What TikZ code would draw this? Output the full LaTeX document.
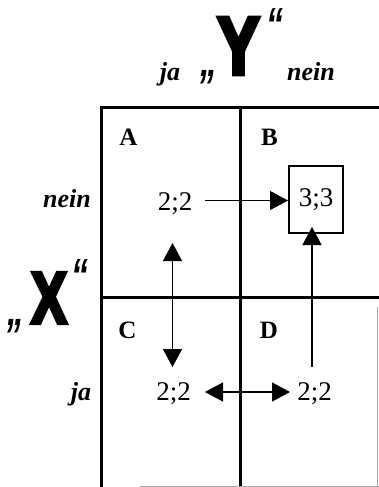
\documentclass[tikz,border=0pt]{standalone}
\usepackage{fontspec}
\setmainfont{Liberation Serif}
\newfontfamily\heavyfont[FakeBold=6]{Liberation Sans Bold}
\newfontfamily\quotefont{Liberation Sans}
\usetikzlibrary{arrows.meta}
\begin{document}
\begin{tikzpicture}[x=1pt,y=-1pt,
  grid/.style={line width=3pt},
  faint/.style={line width=1pt,black!35},
  num/.style={font=\fontsize{27}{29}\selectfont,inner sep=0pt,anchor=base},
  cell/.style={font=\fontsize{25}{27}\selectfont\bfseries,inner sep=0pt,anchor=base},
  lab/.style={font=\fontsize{26}{28}\selectfont\bfseries\itshape,inner sep=0pt,anchor=base},
  big/.style={font=\heavyfont\fontsize{78}{80}\selectfont,inner sep=0pt,anchor=base},
  qmark/.style={font=\quotefont\bfseries\itshape\fontsize{48}{50}\selectfont,inner sep=0pt,xscale=0.7},
  arr/.style={line width=1.3pt,-{Triangle[length=18pt,width=19pt]}},
  darr/.style={line width=1.3pt,{Triangle[length=18pt,width=19pt]}-{Triangle[length=18pt,width=19pt]}},
  result/.style={draw,line width=2pt,minimum width=54pt,minimum height=67pt,inner sep=0pt,
    font=\fontsize{27}{29}\selectfont}]
\useasboundingbox (0,0) rectangle (379,487);
% grid
\draw[grid] (101.5,107) -- (379,107);
\draw[grid] (101.5,105.5) -- (101.5,487);
\draw[grid] (240.5,107) -- (240.5,487);
\draw[grid] (101.5,297) -- (379,297);
\draw[faint] (377.5,307) -- (377.5,487);
\draw[faint] (140,486) -- (379,486);
% axis titles
\node[big,xscale=0.8,yscale=1.04] (ybig) at (238.5,74) {Y};
\node[qmark] (yq1) at (209,77) {„};
\node[qmark] (yq2) at (275,25) {“};
\node[big,xscale=0.68,yscale=0.93] (xbig) at (49,323) {X};
\node[qmark] (xq1) at (16,326) {„};
\node[qmark] (xq2) at (80,276) {“};
\node[lab] (yja) at (170,81) {ja};
\node[lab] (ynein) at (311,81) {nein};
\node[lab] (xnein) at (67,207) {nein};
\node[lab] (xja) at (81,400) {ja};
% cell letters
\node[cell] (la) at (128.5,145) {A};
\node[cell] (lb) at (269.5,145) {B};
\node[cell] (lc) at (127.5,338) {C};
\node[cell] (ld) at (269,338) {D};
% payoffs
\node[num] (pa) at (175,210) {2;2};
\node[result] (pb) at (316,199.5) {3;3};
\node[num] (pc) at (173.5,400) {2;2};
\node[num] (pd) at (314.5,400) {2;2};
% arrows
\coordinate (aS) at (205,200.5);
\draw[arr] (aS) -- (pb.west |- aS);
\coordinate (v1t) at (172.5,243);
\coordinate (v1b) at (172.5,367);
\draw[darr] (v1t) -- (v1b);
\coordinate (v2b) at (312,367);
\draw[arr] (v2b) -- ([yshift=7pt]pb.south -| v2b);
\coordinate (hL) at (205,392);
\coordinate (hR) at (290,392);
\draw[darr] (hL) -- (hR);
\end{tikzpicture}
\end{document}
